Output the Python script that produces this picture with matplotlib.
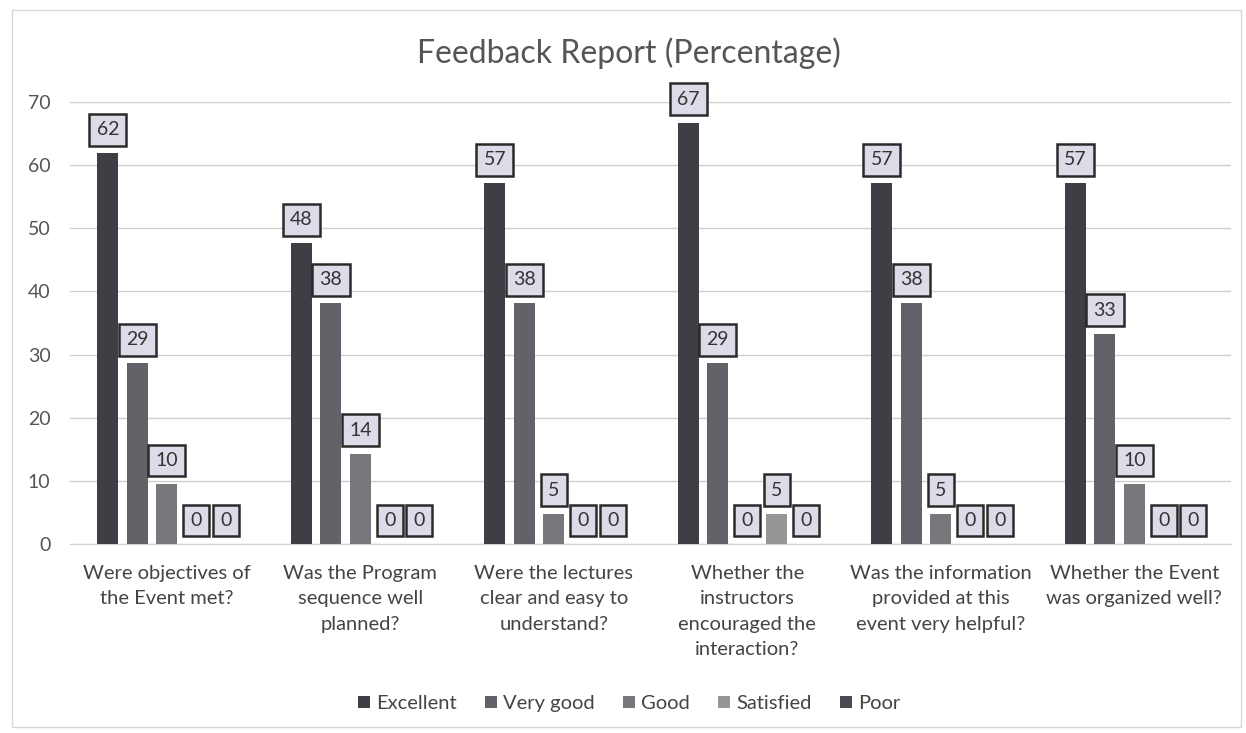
import matplotlib
matplotlib.use("Agg")
import matplotlib.pyplot as plt
import numpy as np
from matplotlib.patches import Rectangle

plt.rcParams['font.family'] = ['Lato', 'DejaVu Sans']

categories = [
    "Were objectives of\nthe Event met?",
    "Was the Program\nsequence well\nplanned?",
    "Were the lectures\nclear and easy to\nunderstand?",
    "Whether the\ninstructors\nencouraged the\ninteraction?",
    "Was the information\nprovided at this\nevent very helpful?",
    "Whether the Event\nwas organized well?",
]
series_names = ["Excellent", "Very good", "Good", "Satisfied", "Poor"]
excellent = [61.9, 47.6, 57.1, 66.7, 57.1, 57.1]
very_good = [28.6, 38.1, 38.1, 28.6, 38.1, 33.3]
good = [9.5, 14.3, 4.8, 0, 4.8, 9.5]
satisfied = [0, 0, 0, 4.8, 0, 0]
poor = [0, 0, 0, 0, 0, 0]
series = [excellent, very_good, good, satisfied, poor]
colors = ["#3e3e44", "#626268", "#78787c", "#969698", "#4a4a52"]

fig = plt.figure(figsize=(12.46, 7.33), dpi=100)
fig.patches.append(Rectangle((0.010, 0.008), 0.986, 0.978, transform=fig.transFigure,
                             fill=False, edgecolor="#d8d8d8", linewidth=1))
ax = fig.add_axes([0.0562, 0.2578, 0.9318, 0.603])

x = np.arange(len(categories))
pitch = 0.1525
width = 0.108
for i, (name, vals, c) in enumerate(zip(series_names, series, colors)):
    xs = x + (i - 2) * pitch
    ax.bar(xs, vals, width=width, color=c, label=name, zorder=3)
    for xi, v in zip(xs, vals):
        ax.annotate(f"{v:.0f}", xy=(xi, v), xytext=(0, 15), textcoords="offset pixels",
                    ha="center", va="bottom", fontsize=14, color="#333333", zorder=5,
                    bbox=dict(boxstyle="square,pad=0.38", facecolor="#dcdce8",
                              edgecolor="#2a2a2a", linewidth=1.8))

ax.set_xlim(-0.5, len(categories) - 0.5)
ax.set_ylim(0, 70)
ax.set_yticks(range(0, 71, 10))
ax.yaxis.grid(True, color="#cfcfcf", linewidth=1, zorder=0)
ax.set_axisbelow(True)
for s in ["top", "right", "left"]:
    ax.spines[s].set_visible(False)
ax.spines["bottom"].set_color("#cfcfcf")
ax.tick_params(axis="y", length=0, labelsize=14, labelcolor="#555555", pad=14)
ax.tick_params(axis="x", length=0, labelsize=14.5, labelcolor="#444444", pad=15)
ax.set_xticks(x)
ax.set_xticklabels(categories, linespacing=1.6)

fig.text(0.505, 0.928, "Feedback Report (Percentage)", ha="center", va="center",
         fontsize=23, color="#555555")

ax.legend(loc="center", bbox_to_anchor=(0.505, 0.04), bbox_transform=fig.transFigure,
          ncol=5, frameon=False, fontsize=14.5, handlelength=0.6, handleheight=0.6,
          handletextpad=0.3, columnspacing=1.4, labelcolor="#444444")

fig.savefig("out.png", dpi=100)
